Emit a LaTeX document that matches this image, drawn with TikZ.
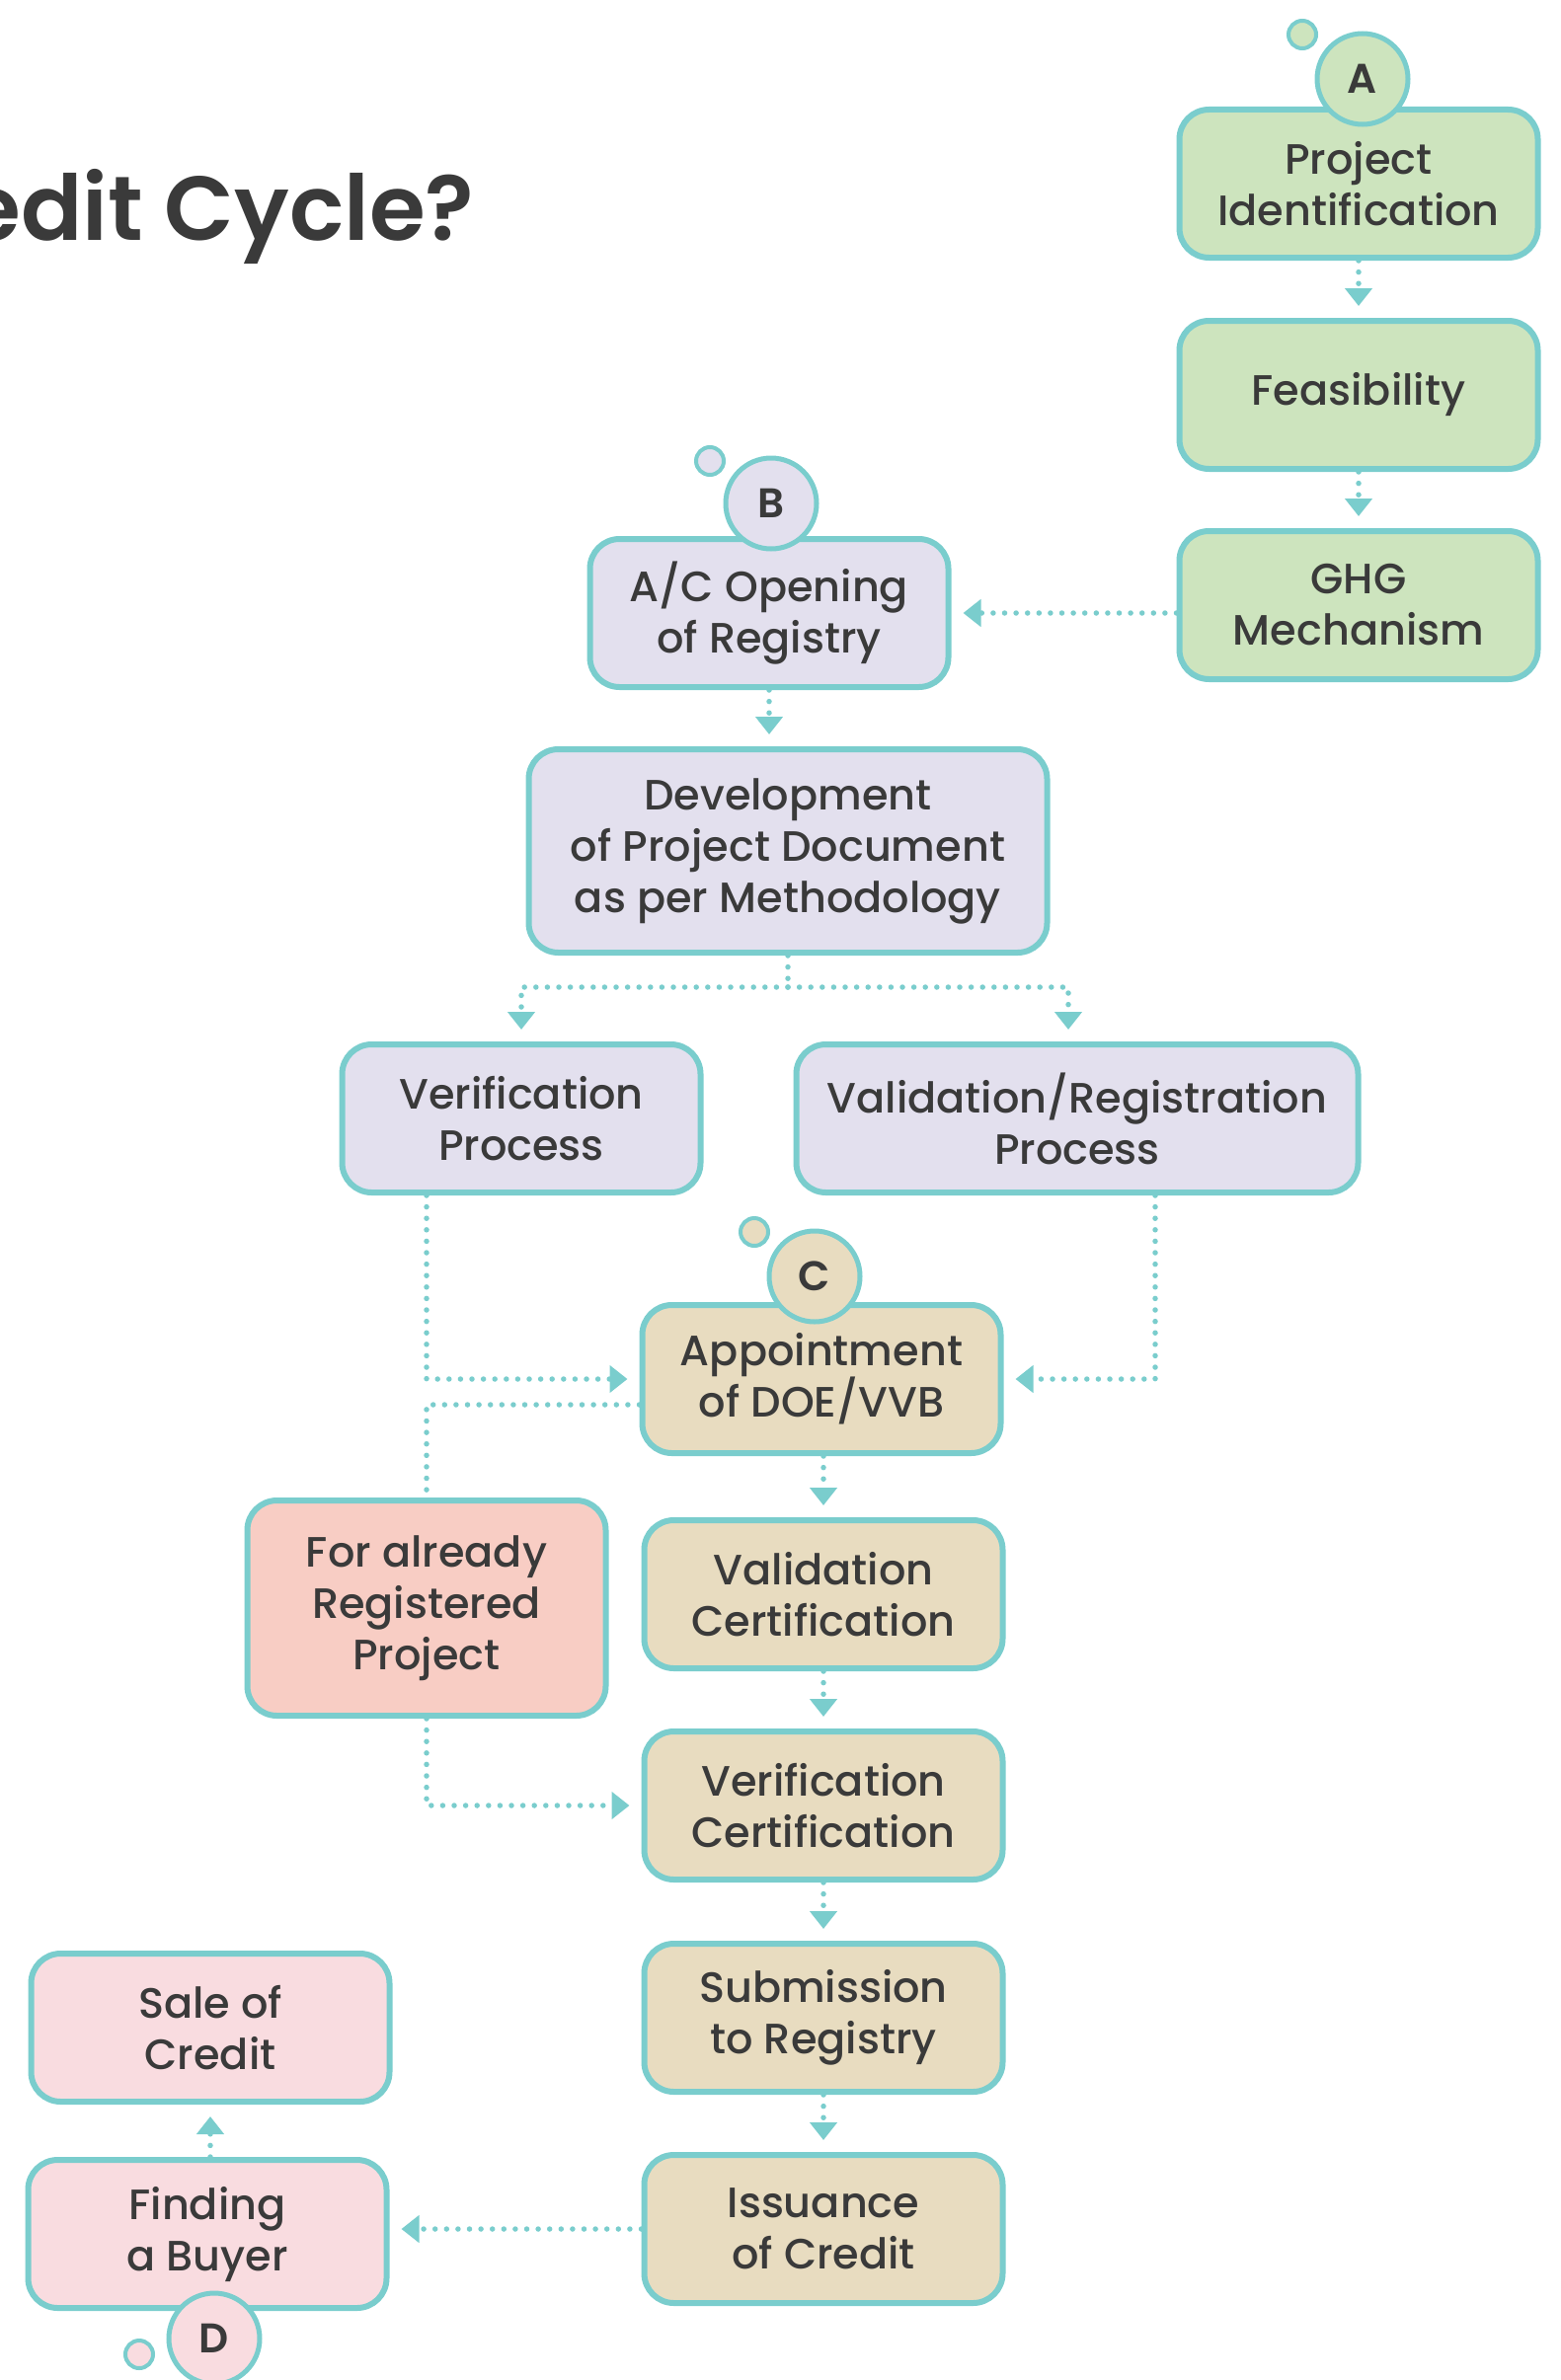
\documentclass[tikz,border=0pt]{standalone}
\usepackage{fontspec}
\setmainfont{Poppins}[UprightFont=* Medium, BoldFont=* SemiBold]
\usetikzlibrary{arrows.meta}

\definecolor{tealc}{HTML}{7ACDCD}
\definecolor{greenc}{HTML}{CDE4BE}
\definecolor{lilac}{HTML}{E3E0EE}
\definecolor{sand}{HTML}{E8DCC0}
\definecolor{salmon}{HTML}{F8CDC4}
\definecolor{rosec}{HTML}{F9DCE0}
\definecolor{inkc}{HTML}{3A3A3A}

\tikzset{
    stagebox/.style={draw=tealc, line width=6pt, rounded corners=30pt, align=center,
        text=inkc, font=\fontsize{43}{52}\selectfont, minimum width=363pt,
        minimum height=150pt, inner sep=0pt},
    badge/.style={circle, draw=tealc, line width=5pt, minimum size=92pt, inner sep=0pt,
        text=inkc, font=\fontsize{42}{42}\selectfont\bfseries},
    bubble/.style={circle, draw=tealc, line width=4pt, minimum size=28pt, inner sep=0pt},
    link/.style={draw=tealc, line width=5.5pt, line cap=round, dash pattern=on 0pt off 11.6pt},
    flow/.style={link, -{Triangle[width=27pt,length=18pt]}, shorten >=12pt},
}

\begin{document}
\begin{tikzpicture}[x=1pt, y=-1pt]
        \useasboundingbox (0,0) rectangle (1580,2411);
        \clip (0,0) rectangle (1580,2411);
        \node[anchor=base east, text=inkc, font=\fontsize{92}{92}\selectfont\bfseries]
            at (484,243)(title){edit Cycle?};

        \node[stagebox, fill=greenc] at (1376,186)(projid){Project\\Identification};
        \node[stagebox, fill=greenc] at (1376,400)(feas){Feasibility};
        \node[stagebox, fill=greenc] at (1376,613)(ghg){GHG\\Mechanism};
        \node[stagebox, fill=lilac] at (779,621)(acopen){A/C Opening\\of Registry};
        \node[stagebox, fill=lilac, minimum width=525pt, minimum height=206pt] at (798,862)(devdoc){Development\\of Project Document\\as per Methodology};
        \node[stagebox, fill=lilac] at (528,1133)(verproc){Verification\\Process};
        \node[stagebox, fill=lilac, minimum width=569pt] at (1091,1133)(valproc){Validation/Registration\\Process};
        \node[stagebox, fill=sand] at (832,1397)(appoint){Appointment\\of DOE/VVB};
        \node[stagebox, fill=salmon, minimum height=218pt] at (432,1629)(regproj){For already\\Registered\\Project};
        \node[stagebox, fill=sand] at (834,1615)(valcert){Validation\\Certification};
        \node[stagebox, fill=sand] at (834,1829)(vercert){Verification\\Certification};
        \node[stagebox, fill=sand] at (834,2044)(submit){Submission\\to Registry};
        \node[stagebox, fill=sand] at (834,2258)(issue){Issuance\\of Credit};
        \node[stagebox, fill=rosec] at (213,2054)(sale){Sale of\\Credit};
        \node[stagebox, fill=rosec] at (210,2263)(buyer){Finding\\a Buyer};

        % phase badges
        \node[bubble, fill=greenc] at (1319,35)(bubA){};
        \node[badge, fill=greenc] at (1380,80)(phaseA){A};
        \node[bubble, fill=lilac] at (719,467)(bubB){};
        \node[badge, fill=lilac] at (781,510)(phaseB){B};
        \node[bubble, fill=sand] at (764,1248)(bubC){};
        \node[badge, fill=sand] at (825,1293)(phaseC){C};
        \node[bubble, fill=rosec] at (141,2385)(bubD){};
        \node[badge, fill=rosec] at (217,2369)(phaseD){D};

        % main chain
        \draw[flow] (projid.south) -- (feas.north);
        \draw[flow] (feas.south) -- (ghg.north);
        \draw[flow] (ghg.west |- acopen) -- (acopen.east);
        \draw[flow] (acopen.south) -- (acopen.south |- devdoc.north);
        \draw[flow] (appoint.south -| valcert) -- (valcert.north);
        \draw[flow] (valcert.south) -- (vercert.north);
        \draw[flow] (vercert.south) -- (submit.north);
        \draw[flow] (submit.south) -- (issue.north);
        \draw[flow] (issue.west) -- (buyer.east |- issue);
        \draw[flow] (buyer.north -| sale) -- (sale.south);

        \coordinate (split) at ([yshift=-32pt]devdoc.south);
        \draw[link] (devdoc.south) -- (split);
        \draw[flow] (split) -| (verproc.north);
        \draw[flow] (split) -| ([xshift=-9pt]valproc.north);

        \draw[flow] ([xshift=-96pt]verproc.south) |- (appoint.west);
        \draw[flow] ([xshift=79pt]valproc.south) |- (appoint.east);
        \draw[link] ([yshift=-26pt]appoint.west) -| (regproj.north);
        \draw[flow] (regproj.south) |- (vercert.west);
    \end{tikzpicture}
\end{document}
